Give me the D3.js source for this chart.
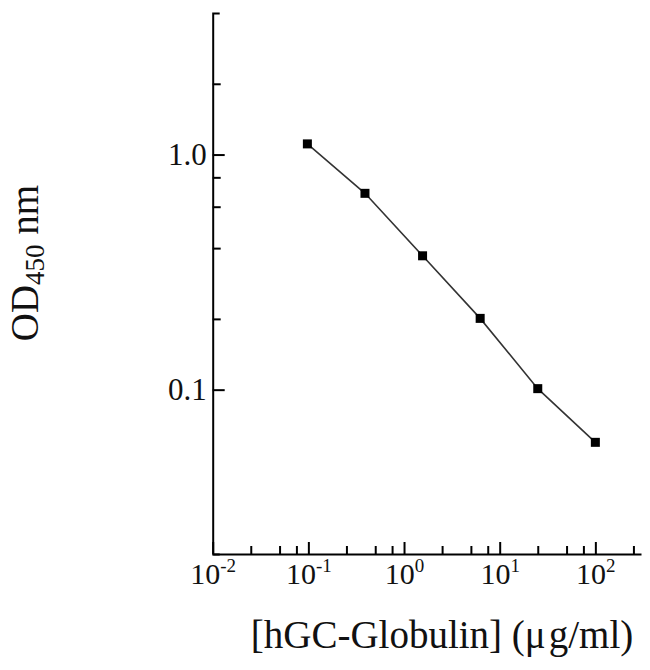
<!DOCTYPE html>
<html>
<head>
<meta charset="utf-8">
<script src="https://cdn.jsdelivr.net/npm/d3@7"></script>
<style>
  html, body { margin: 0; padding: 0; background: #fff; }
  svg { display: block; }
</style>
</head>
<body>
<div id="chart"></div>
<script>
// ---- data ----
const concentrations = [0.09765625, 0.390625, 1.5625, 6.25, 25, 100]; // µg/ml
const odValues = [1.11, 0.684, 0.371, 0.201, 0.101, 0.0597];         // OD450
const xMajorTicks = [0.01, 0.1, 1, 10, 100];
const xMajorExp = ["-2", "-1", "0", "1", "2"];
const xMinorTicks = [0.025, 0.05, 0.075, 0.25, 0.5, 0.75, 2.5, 5, 7.5, 25, 50, 75, 250];
const yMajorTicks = [0.1, 1];
const yMajorLabels = ["0.1", "1.0"];
const yMinorTicks = [0.2, 0.4, 0.6, 0.8, 2];
const xDomain = [0.01, 300];
const yDomain = [0.02, 4];

(function () {
const W = 650, H = 670;
const mLeft = 212.7, mRight = 641, mTop = 13, mBottom = 554;

const svg = d3.select("#chart").append("svg")
  .attr("width", W).attr("height", H);

const x = d3.scaleLog().domain(xDomain).range([mLeft, mRight]);
const y = d3.scaleLog().domain(yDomain).range([mBottom, mTop]);

const font = "'Liberation Serif', 'Times New Roman', serif";

// x axis minor
svg.append("g").attr("transform", `translate(0,${mBottom})`)
  .call(d3.axisBottom(x).tickValues(xMinorTicks).tickSizeInner(-8).tickSizeOuter(0).tickFormat(""))
  .call(g => g.select(".domain").remove())
  .call(g => g.selectAll(".tick line").attr("stroke", "#000").attr("stroke-width", 2));

// x axis major
const xg = svg.append("g").attr("transform", `translate(0,${mBottom})`)
  .call(d3.axisBottom(x).tickValues(xMajorTicks).tickSizeInner(-12).tickSizeOuter(0).tickFormat(""));
xg.select(".domain").attr("stroke", "#000").attr("stroke-width", 2);
xg.selectAll(".tick line").attr("stroke", "#000").attr("stroke-width", 2);
xg.selectAll(".tick").each(function(d, i) {
  const t = d3.select(this).append("text")
    .attr("y", 30).attr("fill", "#111")
    .attr("text-anchor", "middle")
    .style("font-family", font).style("font-size", "30px");
  t.append("tspan").text("10");
  t.append("tspan").attr("dy", -12).style("font-size", "19px").text(xMajorExp[i]);
});

// y axis minor
svg.append("g").attr("transform", `translate(${mLeft},0)`)
  .call(d3.axisLeft(y).tickValues(yMinorTicks).tickSizeInner(-8).tickSizeOuter(0).tickFormat(""))
  .call(g => g.select(".domain").remove())
  .call(g => g.selectAll(".tick line").attr("stroke", "#000").attr("stroke-width", 2));

// y axis major
const yg = svg.append("g").attr("transform", `translate(${mLeft},0)`)
  .call(d3.axisLeft(y).tickValues(yMajorTicks).tickSizeInner(-12).tickSizeOuter(-7)
    .tickFormat((d, i) => yMajorLabels[i]));
yg.select(".domain").attr("stroke", "#000").attr("stroke-width", 2);
yg.selectAll(".tick line").attr("stroke", "#000").attr("stroke-width", 2);
yg.selectAll(".tick text")
  .attr("x", -6).attr("fill", "#111")
  .style("font-family", font).style("font-size", "31px");

// line
svg.append("path")
  .datum(concentrations.map((c, i) => [c, odValues[i]]))
  .attr("fill", "none").attr("stroke", "#333").attr("stroke-width", 1.6)
  .attr("d", d3.line().x(d => x(d[0])).y(d => y(d[1])));

// markers
svg.selectAll("rect.pt").data(concentrations).enter().append("rect")
  .attr("class", "pt")
  .attr("x", (d) => x(d) - 4.5).attr("y", (d, i) => y(odValues[i]) - 4.5)
  .attr("width", 9).attr("height", 9).attr("fill", "#000");

// x label
const xl = svg.append("text")
  .attr("x", 442).attr("y", 648).attr("text-anchor", "middle").attr("fill", "#111")
  .style("font-family", font).style("font-size", "39px");
xl.append("tspan").text("[hGC-Globulin] (μ");
xl.append("tspan").attr("dx", 3).text("g/ml)");

// y label
const yl = svg.append("text")
  .attr("transform", "translate(38,263) rotate(-90)")
  .attr("text-anchor", "middle").attr("fill", "#111")
  .style("font-family", font).style("font-size", "39px");
yl.append("tspan").text("OD");
yl.append("tspan").attr("dy", 6).style("font-size", "27px").text("450");
yl.append("tspan").attr("dy", -6).text(" nm");
})();
</script>
</body>
</html>
